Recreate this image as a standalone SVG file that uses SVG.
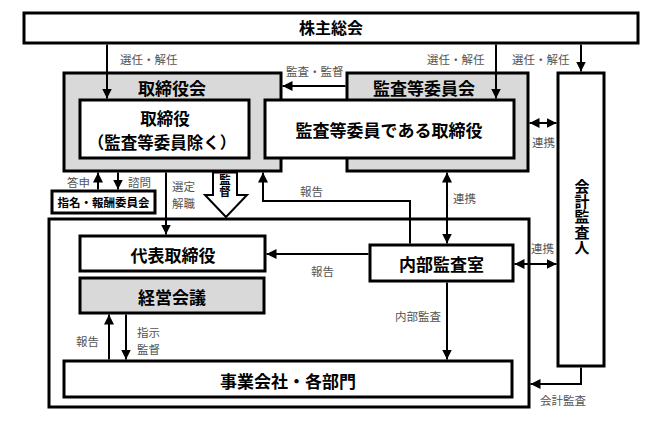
<svg xmlns="http://www.w3.org/2000/svg" width="660" height="421" viewBox="0 0 660 421">
<defs>
<marker id="ah" viewBox="0 0 10 10" refX="10" refY="5" markerWidth="10" markerHeight="10" markerUnits="userSpaceOnUse" orient="auto-start-reverse">
<path d="M0,0 L10,5 L0,10 z" fill="#000"/>
</marker>
<style>
.box{fill:#fff;stroke:#000;stroke-width:3}
.gray{fill:#d9d9d9;stroke:#000;stroke-width:3}
.t{font-family:"Noto Sans CJK JP","Noto Sans",sans-serif;font-weight:bold;font-size:17px;fill:#000;text-anchor:middle}
.v{writing-mode:vertical-rl;text-anchor:middle}
.l{font-family:"Noto Sans CJK JP","Noto Sans",sans-serif;font-size:11.5px;fill:#555}
.c{fill:none;stroke:#000;stroke-width:2}
.a{marker-end:url(#ah)}
.d{marker-start:url(#ah);marker-end:url(#ah)}
</style>
</defs>
<rect width="660" height="421" fill="#fff"/>

<g id="outer">
<rect class="box" x="49" y="219" width="480" height="188"/>
</g>

<g id="kansa-arrow">
<polygon points="213,172.5 237,172.5 237,195 247,195 226,217 205,195 213,195" fill="#fff" stroke="#000" stroke-width="2"/>
<text class="t v" style="font-size:11.5px" x="225" y="185.5">監督</text>
</g>

<g id="kabunushi">
<rect class="box" x="24" y="13" width="614" height="30"/>
<text class="t" style="font-size:16px" x="331" y="34">株主総会</text>
</g>

<g id="torishimariyakukai">
<rect class="gray" x="64" y="73" width="217" height="98"/>
<text class="t" x="172" y="95">取締役会</text>
</g>

<g id="kansatouiinkai">
<rect class="gray" x="347" y="73" width="181" height="98"/>
<text class="t" x="424" y="94.5">監査等委員会</text>
</g>

<g id="torishimariyaku">
<rect class="box" x="80" y="100" width="169" height="58"/>
<text class="t" style="font-size:16.5px" x="165" y="125">取締役</text>
<text class="t" style="font-size:16.5px" x="162" y="149">（監査等委員除く）</text>
</g>

<g id="kansatouiin-torishimariyaku">
<rect class="box" x="265" y="100" width="249" height="58"/>
<text class="t" x="389" y="137">監査等委員である取締役</text>
</g>

<g id="kaikeikansanin">
<rect class="box" x="558" y="73" width="46" height="293"/>
<text class="t v" style="font-size:15px;letter-spacing:0.4px" x="582" y="217">会計監査人</text>
</g>

<g id="shimei">
<rect class="box" x="52" y="191" width="103" height="22"/>
<text class="t" style="font-size:11.5px" x="103.5" y="207">指名・報酬委員会</text>
</g>

<g id="daihyo">
<rect class="box" x="80" y="236" width="185" height="35"/>
<text class="t" x="173" y="261.5">代表取締役</text>
</g>

<g id="keiei">
<rect class="gray" x="80" y="278" width="184" height="35"/>
<text class="t" x="172" y="304">経営会議</text>
</g>

<g id="naibukansashitsu">
<rect class="box" x="370" y="245" width="143" height="36"/>
<text class="t" x="441.5" y="271">内部監査室</text>
</g>

<g id="jigyo">
<rect class="box" x="64" y="361" width="448" height="36"/>
<text class="t" x="288" y="388">事業会社・各部門</text>
</g>

<g id="connectors">
<line class="c a" x1="107" y1="44.5" x2="107" y2="98.5"/>
<line class="c a" x1="496" y1="44.5" x2="496" y2="98.5"/>
<line class="c a" x1="581" y1="44.5" x2="581" y2="71.5"/>
<line class="c a" x1="345.5" y1="86" x2="282.5" y2="86"/>
<line class="c d" x1="529.5" y1="123" x2="556.5" y2="123"/>
<line class="c d" x1="447" y1="172.5" x2="447" y2="243.5"/>
<line class="c d" x1="514.5" y1="264" x2="556.5" y2="264"/>
<line class="c a" x1="368.5" y1="254" x2="266.5" y2="254"/>
<polyline class="c a" points="410,243.5 410,201 263,201 263,172.5"/>
<line class="c a" x1="447" y1="282.5" x2="447" y2="359.5"/>
<polyline class="c a" points="581,367.5 581,384 530.5,384"/>
<line class="c a" x1="109" y1="359.5" x2="109" y2="314.5"/>
<line class="c a" x1="126" y1="314.5" x2="126" y2="359.5"/>
<line class="c a" x1="98" y1="189.5" x2="98" y2="172.5"/>
<line class="c a" x1="118" y1="172.5" x2="118" y2="189.5"/>
<line class="c a" x1="166" y1="172.5" x2="166" y2="234.5"/>
</g>

<g id="labels">
<text class="l" x="120" y="64">選任・解任</text>
<text class="l" x="427" y="64">選任・解任</text>
<text class="l" x="512" y="64">選任・解任</text>
<text class="l" x="286" y="76">監査・監督</text>
<text class="l" x="532" y="147">連携</text>
<text class="l" x="453" y="203">連携</text>
<text class="l" x="531" y="253">連携</text>
<text class="l" x="300" y="196">報告</text>
<text class="l" x="311" y="276">報告</text>
<text class="l" x="67" y="187">答申</text>
<text class="l" x="128" y="187">諮問</text>
<text class="l" x="172" y="191">選定</text>
<text class="l" x="172" y="208">解職</text>
<text class="l" x="395" y="321">内部監査</text>
<text class="l" x="540" y="405">会計監査</text>
<text class="l" x="76" y="346">報告</text>
<text class="l" x="137" y="337">指示</text>
<text class="l" x="137" y="354">監督</text>
</g>
</svg>
